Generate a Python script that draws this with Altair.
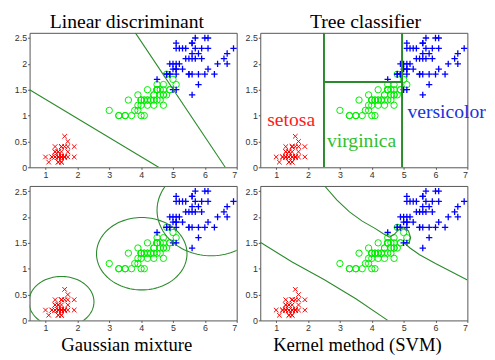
import altair as alt
import numpy as np
import pandas as pd

# ---- data (iris petal length / width, as plotted) ----
red_x = [1.4,1.4,1.3,1.5,1.4,1.7,1.4,1.5,1.4,1.5,1.5,1.6,1.4,1.1,1.2,1.5,1.3,1.4,1.7,1.5,
         1.7,1.5,1.0,1.7,1.9,1.6,1.6,1.5,1.4,1.6,1.6,1.5,1.5,1.4,1.5,1.2,1.3,1.4,1.3,1.5,
         1.3,1.3,1.3,1.6,1.9,1.4,1.6,1.4,1.5,1.4]
red_y = [0.2,0.2,0.2,0.2,0.2,0.4,0.3,0.2,0.2,0.1,0.2,0.2,0.1,0.1,0.2,0.4,0.4,0.3,0.3,0.3,
         0.2,0.4,0.2,0.5,0.2,0.2,0.4,0.2,0.2,0.2,0.2,0.4,0.1,0.2,0.2,0.2,0.2,0.1,0.2,0.2,
         0.3,0.3,0.2,0.6,0.4,0.3,0.2,0.2,0.2,0.2]
green_x = [4.7,4.5,4.9,4.0,4.6,4.5,4.7,3.3,4.6,3.9,3.5,4.2,4.0,4.7,3.6,4.4,4.5,4.1,4.5,3.9,
           4.8,4.0,4.9,4.7,4.3,4.4,4.8,5.0,4.5,3.5,3.8,3.7,3.9,5.1,4.5,4.5,4.7,4.4,4.1,4.0,
           4.4,4.6,4.0,3.3,4.2,4.2,4.2,4.3,3.0,4.1]
green_y = [1.4,1.5,1.5,1.3,1.5,1.3,1.6,1.0,1.3,1.4,1.0,1.5,1.0,1.4,1.3,1.4,1.5,1.0,1.5,1.1,
           1.8,1.3,1.5,1.2,1.3,1.4,1.4,1.7,1.5,1.0,1.1,1.0,1.2,1.6,1.5,1.6,1.5,1.3,1.3,1.3,
           1.2,1.4,1.2,1.0,1.3,1.2,1.3,1.3,1.1,1.3]
blue_x = [6.0,5.1,5.9,5.6,5.8,6.6,4.5,6.3,5.8,6.1,5.1,5.3,5.5,5.0,5.1,5.3,5.5,6.7,6.9,5.0,
          5.7,4.9,6.7,4.9,5.7,6.0,4.8,4.9,5.6,5.8,6.1,6.4,5.6,5.1,5.6,6.1,5.6,5.5,4.8,5.4,
          5.6,5.1,5.1,5.9,5.7,5.2,5.0,5.2,5.4,5.1]
blue_y = [2.5,1.9,2.1,1.8,2.2,2.1,1.7,1.8,1.8,2.5,2.0,1.9,2.1,2.0,2.4,2.3,1.8,2.2,2.3,1.5,
          2.3,2.0,2.0,1.8,2.1,1.8,1.8,1.8,2.1,1.6,1.9,2.0,2.2,1.5,1.4,2.3,2.4,1.8,1.8,2.1,
          2.4,2.3,1.9,2.3,2.5,2.3,1.9,2.0,2.3,1.8]

x_ticks = [1, 2, 3, 4, 5, 6, 7]
y_ticks = [0, 0.5, 1, 1.5, 2, 2.5]
titles = ["Linear discriminant", "Tree classifier", "Gaussian mixture", "Kernel method (SVM)"]

# linear discriminant boundaries (segments)
lda_x = [0.5, 3.82]
lda_y = [1.5, 2.6]
lda_x2 = [4.55, 6.64]
lda_y2 = [0.0, 0.0]

# tree classifier splits (segments)
tree_x = [2.5, 4.95, 2.5]
tree_y = [0.0, 0.0, 1.65]
tree_x2 = [2.5, 4.95, 4.95]
tree_y2 = [2.6, 2.6, 1.65]

# tree labels
lab_text = ["setosa", "virginica", "versicolor"]
lab_x = [1.47, 3.68, 6.35]
lab_y = [0.92, 0.51, 1.07]
lab_col = ["#ff1a1a", "#2fbf2f", "#1a33dd"]

# gaussian mixture ellipses: centre and semi-axes
ell_cx = [1.50, 4.02, 6.20]
ell_cy = [0.36, 1.29, 2.13]
ell_rx = [1.02, 1.42, 1.70]
ell_ry = [0.49, 0.70, 0.88]

# SVM boundaries
svm1_x = [0.5, 1.5, 2.5, 3.5, 4.5]
svm1_y = [1.51, 1.13, 0.79, 0.42, 0.0]
svm2_x = [2.52, 2.9, 3.3, 3.7, 4.1, 4.35, 4.55, 4.7, 4.85, 5.0, 5.15, 5.22, 5.17, 5.07,
          5.2, 5.5, 6.0, 6.5, 7.0]
svm2_y = [2.6, 2.33, 2.1, 1.92, 1.78, 1.68, 1.61, 1.66, 1.76, 1.79, 1.73, 1.6, 1.5, 1.47,
          1.40, 1.27, 1.1, 0.94, 0.78]

# ---- build tables ----
red = pd.DataFrame({"x": red_x, "y": red_y})
green = pd.DataFrame({"x": green_x, "y": green_y})
blue = pd.DataFrame({"x": blue_x, "y": blue_y})
lda = pd.DataFrame({"x": lda_x, "y": lda_y, "x2": lda_x2, "y2": lda_y2})
tree = pd.DataFrame({"x": tree_x, "y": tree_y, "x2": tree_x2, "y2": tree_y2})
labels = pd.DataFrame({"x": lab_x, "y": lab_y, "t": lab_text, "c": lab_col})

ell_rows = []
t = np.linspace(0, 2 * np.pi, 121)
for k in range(len(ell_cx)):
    for i, a in enumerate(t):
        ell_rows.append({"k": k, "i": i,
                         "x": ell_cx[k] + ell_rx[k] * np.cos(a),
                         "y": ell_cy[k] + ell_ry[k] * np.sin(a)})
ell = pd.DataFrame(ell_rows)

svm = pd.DataFrame(
    [{"k": 0, "i": i, "x": a, "y": b} for i, (a, b) in enumerate(zip(svm1_x, svm1_y))]
    + [{"k": 1, "i": i, "x": a, "y": b} for i, (a, b) in enumerate(zip(svm2_x, svm2_y))]
)

# ---- encodings ----
W, H = 211, 137
LINE = "#2b8a2b"
X_PATH = "M -1 -1 L 1 1 M -1 1 L 1 -1"
PLUS_PATH = "M -1 0 L 1 0 M 0 -1 L 0 1"

xs = alt.Scale(domain=[0.5, 7], nice=False, zero=False)
ys = alt.Scale(domain=[0, 2.6], nice=False, zero=False)
X = alt.X("x:Q", scale=xs, axis=alt.Axis(values=x_ticks, format="d", title=None))
Y = alt.Y("y:Q", scale=ys, axis=alt.Axis(values=y_ticks, format="~g", title=None))


def scatter():
    r = alt.Chart(red).mark_point(shape=X_PATH, filled=False, size=22, strokeWidth=1,
                                  color="#ff0000", opacity=1).encode(x=X, y=Y)
    g = alt.Chart(green).mark_point(shape="circle", filled=False, size=42, strokeWidth=1,
                                    color="#00ee00", opacity=1).encode(x=X, y=Y)
    b = alt.Chart(blue).mark_point(shape=PLUS_PATH, filled=False, size=42, strokeWidth=1.3,
                                   color="#0000ff", opacity=1).encode(x=X, y=Y)
    return [r, g, b]


def panel(title, orient, extra, offset, size=20):
    return alt.layer(*scatter(), *extra).properties(
        width=W, height=H,
        title=alt.TitleParams(title, orient=orient, font="Liberation Serif", fontSize=size,
                              fontWeight="normal", color="#000", frame="bounds",
                              anchor="middle", offset=offset),
    )


lda_layer = alt.Chart(lda).mark_rule(color=LINE, strokeWidth=1.1, clip=True).encode(
    x=X, y=Y, x2="x2:Q", y2="y2:Q")
tree_layer = alt.Chart(tree).mark_rule(color=LINE, strokeWidth=2, clip=True).encode(
    x=X, y=Y, x2="x2:Q", y2="y2:Q")
lab_layer = alt.Chart(labels).mark_text(font="Liberation Serif", fontSize=20).encode(
    x=X, y=Y, text="t:N", color=alt.Color("c:N", scale=None))
ell_layer = alt.Chart(ell).mark_line(color=LINE, strokeWidth=1.1, clip=True).encode(
    x=X, y=Y, detail="k:N", order="i:Q")
svm_layer = alt.Chart(svm).mark_line(color=LINE, strokeWidth=1.1, clip=True).encode(
    x=X, y=Y, detail="k:N", order="i:Q")

p1 = panel(titles[0], "top", [lda_layer], 0)
p2 = panel(titles[1], "top", [tree_layer, lab_layer], 0)
p3 = panel(titles[2], "bottom", [ell_layer], 4, 19)
p4 = panel(titles[3], "bottom", [svm_layer], 4, 19)

chart = alt.vconcat(
    alt.hconcat(p1, p2, spacing=3),
    alt.hconcat(p3, p4, spacing=3),
    spacing=4,
).properties(
    padding={"left": 5, "top": 0, "right": 0, "bottom": 0}
).configure_view(
    stroke="#555", strokeWidth=1
).configure_axis(
    domain=False, grid=False, ticks=True, tickSize=2, tickColor="#555",
    labelFont="Liberation Sans", labelFontSize=9, labelColor="#333", labelPadding=1,
)

chart.save("out.html", embed_options={"renderer": "svg", "actions": False})
